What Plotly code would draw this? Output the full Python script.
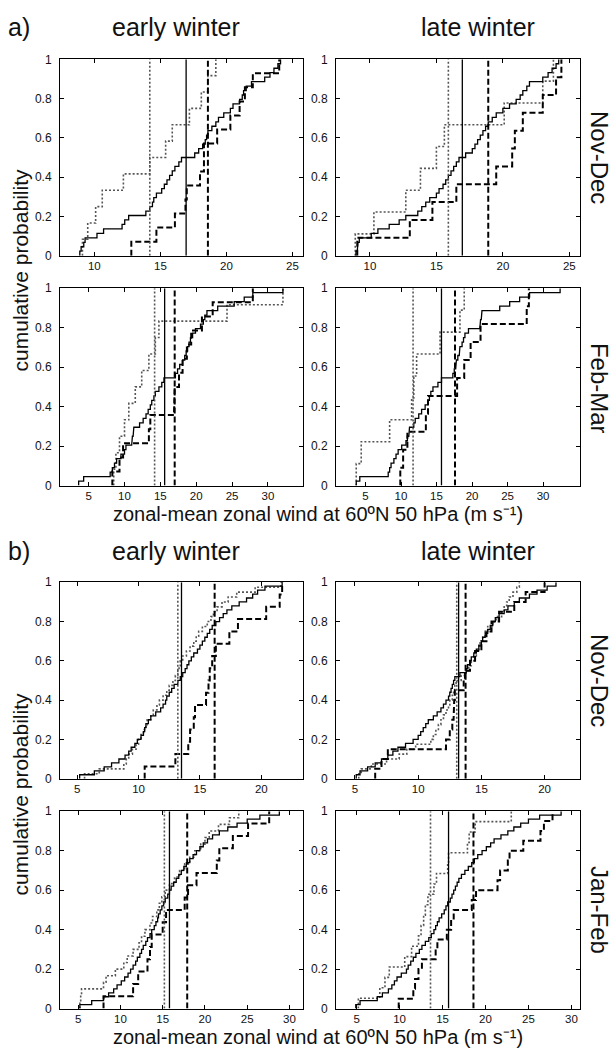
import plotly.graph_objects as go

# ---------------- data (m/s) ----------------
# group a, Nov-Dec, early winter
aND_early_solid = [8.9, 9.0, 9.2, 9.3, 10.2, 10.7, 12.1, 12.3, 12.6, 13.9, 14.2, 14.4, 14.5, 14.7,
                   15.1, 15.3, 15.5, 15.7, 15.9, 16.1, 16.4, 16.6, 17.6, 17.9, 18.2, 18.4, 18.5, 18.6,
                   18.9, 19.2, 19.4, 19.8, 20.3, 20.5, 21.0, 21.2, 21.3, 21.5, 21.9, 22.9, 23.3, 23.6,
                   23.9, 24.1]
aND_early_dashed = [12.8, 14.7, 16.1, 16.9, 17.0, 18.0, 18.3, 18.3, 19.3, 20.3, 21.0, 21.4, 22.0, 24.0]
aND_early_dotted = [9.1, 9.5, 10.1, 10.6, 12.2, 14.2, 15.4, 15.9, 17.2, 18.1, 18.6, 19.2]
# group a, Nov-Dec, late winter
aND_late_solid = [8.95, 9.05, 9.1, 9.2, 10.1, 10.6, 11.45, 12.2, 12.7, 13.6, 13.9, 14.2, 14.5, 15.0,
                  15.2, 15.5, 15.7, 15.9, 16.1, 16.3, 16.5, 16.7, 17.2, 17.7, 17.9, 18.1, 18.3, 18.5,
                  18.7, 18.9, 19.2, 19.5, 20.0, 20.5, 21.0, 21.3, 21.5, 21.8, 22.0, 23.0, 23.4, 23.7,
                  24.0, 24.2]
aND_late_dashed = [9.05, 13.0, 14.7, 16.5, 19.5, 20.7, 20.9, 21.5, 23.0, 24.0, 24.4]
aND_late_dotted = [8.9, 10.3, 12.7, 13.8, 15.0, 15.6, 20.1, 23.0, 23.8]
# group a, Feb-Mar, early winter
aFM_early_solid = [3.6, 4.3, 8.0, 8.3, 8.6, 8.9, 9.5, 10.0, 10.2, 11.0, 11.1, 11.2, 11.3, 12.1, 12.6,
                   13.0, 13.3, 13.6, 13.8, 14.1, 14.3, 14.8, 15.2, 15.5, 17.1, 17.4, 17.7, 18.1, 18.4,
                   18.6, 18.8, 19.0, 19.2, 19.5, 19.9, 20.6, 21.0, 21.2, 21.5, 23.0, 25.3, 26.7, 27.9,
                   32.1]
aFM_early_dashed = [8.3, 9.3, 9.8, 13.4, 13.6, 16.9, 17.0, 17.6, 18.1, 18.7, 19.3, 20.8, 22.3, 27.9]
aFM_early_dotted = [8.5, 8.8, 9.3, 10.0, 10.6, 11.5, 12.4, 13.4, 14.3, 14.8, 24.3, 32.1]
# group a, Feb-Mar, late winter
aFM_late_solid = [3.7, 4.2, 8.2, 8.4, 8.6, 9.0, 9.3, 9.6, 10.1, 10.7, 10.9, 11.1, 11.2, 11.8, 12.0,
                  12.5, 12.9, 13.4, 13.8, 14.0, 14.2, 14.5, 15.2, 15.7, 17.3, 17.5, 17.7, 17.8, 18.0,
                  18.2, 18.3, 18.6, 18.8, 19.0, 19.5, 21.1, 21.2, 21.3, 21.4, 23.9, 25.3, 26.7, 28.1,
                  32.4]
aFM_late_dashed = [9.9, 10.3, 10.9, 13.5, 13.8, 17.9, 18.9, 19.8, 21.2, 27.7, 28.0]
aFM_late_dotted = [3.7, 4.4, 8.4, 11.5, 11.8, 12.2, 15.5, 18.3, 18.9]

# group b, Nov-Dec, early winter
bND_early_solid = [5.2, 6.4, 7.2, 7.8, 8.4, 8.9, 9.2, 9.4, 9.7, 9.9, 10.2, 10.4, 10.5, 10.6, 10.8,
                   11.0, 11.4, 11.8, 12.0, 12.2, 12.3, 12.5, 12.7, 12.9, 13.2, 13.4, 13.6, 13.8, 13.95,
                   14.1, 14.3, 14.5, 14.8, 15.0, 15.2, 15.4, 15.6, 15.8, 16.0, 16.3, 16.6, 16.9, 17.2,
                   17.6, 18.2, 18.8, 19.3, 19.7, 20.3, 21.7]
bND_early_dashed = [10.5, 13.0, 14.05, 14.2, 14.5, 14.6, 15.5, 15.7, 15.8, 16.0, 16.3, 17.4, 18.1,
                    20.4, 21.5, 21.7]
bND_early_dotted = [5.6, 6.8, 8.8, 9.0, 9.2, 9.5, 9.8, 10.0, 10.2, 10.4, 10.6, 10.7, 11.0, 11.2, 11.5,
                    11.7, 12.0, 12.3, 12.5, 12.8, 13.0, 13.2, 13.3, 13.4, 13.6, 13.9, 14.2, 14.5, 14.7,
                    14.9, 15.2, 15.6, 15.9, 16.1, 16.4, 16.8, 17.3, 18.0, 19.5, 21.6]
# group b, Nov-Dec, late winter
bND_late_solid = [5.1, 5.4, 6.0, 6.6, 7.1, 7.6, 8.0, 8.4, 9.0, 9.6, 10.0, 10.2, 10.4, 10.6, 10.8, 11.2,
                  11.5, 11.8, 12.0, 12.2, 12.4, 12.5, 12.6, 12.7, 12.8, 12.9, 13.3, 13.8, 13.9, 14.1,
                  14.2, 14.4, 14.6, 14.8, 15.0, 15.1, 15.3, 15.5, 15.7, 15.9, 16.1, 16.4, 16.8, 17.1,
                  17.6, 18.0, 18.8, 19.4, 20.2, 20.9]
bND_late_dashed = [6.6, 7.1, 7.6, 12.2, 12.5, 12.7, 12.8, 12.85, 12.9, 13.6, 13.7, 14.1, 14.5, 15.0,
                   15.4, 15.8, 16.4, 17.6, 18.5, 20.0]
bND_late_dotted = [5.3, 5.5, 6.3, 7.5, 8.5, 9.1, 9.8, 11.0, 11.2, 11.4, 11.6, 11.8, 12.0, 12.2, 12.4,
                   12.5, 12.7, 12.8, 12.9, 13.0, 13.4, 13.8, 14.0, 14.2, 14.4, 14.6, 14.8, 14.9, 15.1,
                   15.3, 15.5, 15.9, 16.2, 16.6, 16.8, 17.0, 17.2, 17.5, 17.8, 18.0]
# group b, Jan-Feb, early winter
bJF_early_solid = [5.2, 6.6, 8.0, 8.6, 9.2, 9.6, 10.1, 10.5, 10.9, 11.2, 11.5, 11.8, 12.0, 12.3, 12.5,
                   12.7, 13.0, 13.2, 13.5, 13.7, 14.0, 14.2, 14.4, 14.5, 14.7, 14.9, 15.1, 15.3, 15.6,
                   15.8, 16.0, 16.3, 16.6, 16.9, 17.2, 17.5, 17.8, 18.2, 18.6, 19.0, 19.4, 19.8, 20.3,
                   20.9, 21.7, 22.7, 23.8, 25.0, 26.5, 28.8]
bJF_early_dashed = [8.0, 11.5, 12.1, 13.2, 13.5, 13.7, 15.0, 15.4, 17.6, 18.0, 19.0, 21.4, 21.7, 23.3,
                    25.1, 27.6]
bJF_early_dotted = [5.2, 5.3, 5.4, 8.0, 8.3, 9.4, 10.4, 10.8, 11.5, 12.2, 12.5, 12.9, 13.5, 13.8, 14.3,
                    14.6, 14.9, 15.3, 15.8, 16.4, 17.0, 17.6, 18.2, 18.8, 19.5, 20.0, 20.5, 21.6, 22.9,
                    24.0]
# group b, Jan-Feb, late winter
bJF_late_solid = [4.9, 5.4, 7.4, 8.0, 8.7, 9.1, 9.4, 9.7, 10.2, 10.8, 11.0, 11.3, 11.6, 11.9, 12.3,
                  12.6, 13.0, 13.4, 13.7, 14.0, 14.2, 14.4, 14.6, 14.9, 15.2, 15.4, 15.6, 15.9, 16.1,
                  16.3, 16.5, 16.7, 16.9, 17.2, 17.6, 18.0, 18.4, 18.7, 19.1, 19.6, 20.1, 20.6, 21.0,
                  21.8, 22.6, 23.3, 24.1, 25.0, 26.3, 28.8]
bJF_late_dashed = [9.9, 11.6, 11.8, 12.2, 12.6, 14.2, 14.4, 15.5, 16.0, 16.3, 18.4, 18.9, 21.4, 21.7,
                   22.6, 22.8, 24.4, 26.4, 26.8, 27.8]
bJF_late_dotted = [5.2, 7.7, 8.3, 8.8, 10.6, 11.4, 12.2, 12.5, 12.8, 13.0, 13.3, 14.0, 14.3, 15.6, 15.7,
                   17.9, 18.1, 18.8, 23.0]

# means (vertical lines), panel order: aND-early, aND-late, aFM-early, aFM-late,
#                                      bND-early, bND-late, bJF-early, bJF-late
mean_solid = [16.95, 16.95, 15.6, 15.7, 13.5, 13.2, 15.8, 15.7]
mean_dashed = [18.6, 18.9, 17.0, 17.6, 16.2, 13.75, 17.9, 18.6]
mean_dotted = [14.2, 15.9, 14.2, 11.7, 13.2, 13.05, 15.2, 13.6]

ticks_a_top = [10, 15, 20, 25]
ticks_wide = [5, 10, 15, 20, 25, 30]
ticks_b_top = [5, 10, 15, 20]
yticks = [0, 0.2, 0.4, 0.6, 0.8, 1]
ytick_text = ["0", "0.2", "0.4", "0.6", "0.8", "1"]

col_titles = ["early winter", "late winter"]
row_labels_a = ["Nov-Dec", "Feb-Mar"]
row_labels_b = ["Nov-Dec", "Jan-Feb"]
xlabel = "zonal-mean zonal wind at 60ºN 50 hPa (m s⁻¹)"
ylabel = "cumulative probability"

series = [
    (aND_early_solid, aND_early_dashed, aND_early_dotted),
    (aND_late_solid, aND_late_dashed, aND_late_dotted),
    (aFM_early_solid, aFM_early_dashed, aFM_early_dotted),
    (aFM_late_solid, aFM_late_dashed, aFM_late_dotted),
    (bND_early_solid, bND_early_dashed, bND_early_dotted),
    (bND_late_solid, bND_late_dashed, bND_late_dotted),
    (bJF_early_solid, bJF_early_dashed, bJF_early_dotted),
    (bJF_late_solid, bJF_late_dashed, bJF_late_dotted),
]

# ---------------- layout (pixels) ----------------
W, H = 614, 1058
cols_px = [(60, 303), (336, 580)]
rows_px = [(53, 252), (285, 485), (583, 782), (815, 1015)]
xranges = [[7.4, 25.8], [7.45, 25.8], [1.0, 34.9], [0.85, 35.2],
           [3.6, 23.4], [3.5, 22.8], [2.85, 31.6], [2.6, 31.0]]
xticks = [ticks_a_top, ticks_a_top, ticks_wide, ticks_wide,
          ticks_b_top, ticks_b_top, ticks_wide, ticks_wide]

FONT = "Liberation Sans, Arial, Helvetica, sans-serif"
styles = {
    "solid": dict(color="black", width=1.3, dash="solid"),
    "dashed": dict(color="black", width=2.0, dash="6px,3px"),
    "dotted": dict(color="#555555", width=1.6, dash="2px,2px"),
}


def cdf_path(vals):
    v = sorted(vals)
    n = len(v)
    xs, ys = [], []
    for i, x in enumerate(v):
        xs += [x, x]
        ys += [i / n, (i + 1) / n]
    return xs, ys


fig = go.Figure()
layout = dict(width=W, height=H, margin=dict(l=0, r=0, t=0, b=0),
              paper_bgcolor="white", plot_bgcolor="white", showlegend=False,
              font=dict(family=FONT, color="black"))

for p in range(8):
    r, c = p // 2, p % 2
    x0, x1 = cols_px[c]
    y0, y1 = rows_px[r]
    sfx = "" if p == 0 else str(p + 1)
    xa, ya = "x" + sfx, "y" + sfx
    layout["xaxis" + sfx] = dict(
        domain=[x0 / W, x1 / W], anchor=ya, range=xranges[p],
        tickvals=xticks[p], ticks="inside", ticklen=4, tickcolor="black",
        showline=True, linecolor="black", linewidth=1, mirror="allticks",
        showgrid=False, zeroline=False, tickfont=dict(size=11.5, family=FONT, color="#111111"),
        ticklabelstandoff=0)
    layout["yaxis" + sfx] = dict(
        domain=[1 - y1 / H, 1 - y0 / H], anchor=xa, range=[0, 1],
        tickvals=yticks, ticktext=ytick_text,
        ticks="inside", ticklen=4, tickcolor="black",
        showline=True, linecolor="black", linewidth=1, mirror="allticks",
        showgrid=False, zeroline=False, tickfont=dict(size=12, family=FONT, color="#111111"),
        ticklabelstandoff=5)
    s_solid, s_dashed, s_dotted = series[p]
    for vals, key in ((s_dotted, "dotted"), (s_dashed, "dashed"), (s_solid, "solid")):
        xs, ys = cdf_path(vals)
        fig.add_trace(go.Scatter(x=xs, y=ys, mode="lines", line=styles[key],
                                 xaxis=xa, yaxis=ya, hoverinfo="skip"))
    for m, key in ((mean_dotted[p], "dotted"), (mean_dashed[p], "dashed"), (mean_solid[p], "solid")):
        fig.add_trace(go.Scatter(x=[m, m], y=[0, 1], mode="lines", line=styles[key],
                                 xaxis=xa, yaxis=ya, hoverinfo="skip"))

ann = []


def text(x, y, t, size, angle=0, xanchor="center"):
    ann.append(dict(x=x / W, y=1 - y / H, xref="paper", yref="paper", text=t,
                    showarrow=False, textangle=angle, xanchor=xanchor, yanchor="middle",
                    font=dict(size=size, family=FONT, color="#111111")))


# group labels / column titles
for gy, glabel in ((20, "a)"), (551, "b)")):
    text(6, gy, glabel, 25, xanchor="left")
    text(176, gy, col_titles[0], 25)
    text(478, gy, col_titles[1], 25)
# row labels
text(599, 152, row_labels_a[0], 24, angle=90)
text(599, 386, row_labels_a[1], 24, angle=90)
text(599, 682, row_labels_b[0], 24, angle=90)
text(599, 915, row_labels_b[1], 24, angle=90)
# axis labels
text(20, 267, ylabel, 21, angle=-90)
text(20, 798, ylabel, 21, angle=-90)
text(318, 514, xlabel, 20)
text(318, 1044, xlabel, 20)

layout["annotations"] = ann
fig.update_layout(**layout)
fig.write_html("out.html")
